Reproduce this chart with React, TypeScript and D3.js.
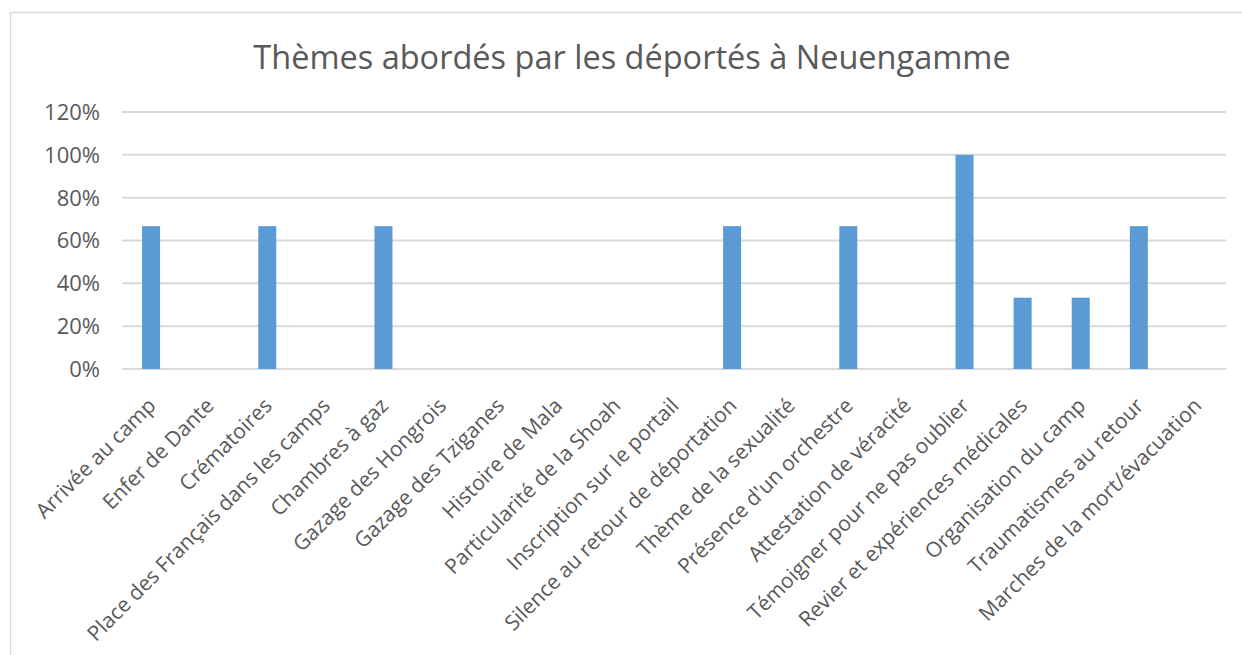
import * as d3 from "d3";

const categories = [
  "Arrivée au camp",
  "Enfer de Dante",
  "Crématoires",
  "Place des Français dans les camps",
  "Chambres à gaz",
  "Gazage des Hongrois",
  "Gazage des Tziganes",
  "Histoire de Mala",
  "Particularité de la Shoah",
  "Inscription sur le portail",
  "Silence au retour de déportation",
  "Thème de la sexualité",
  "Présence d'un orchestre",
  "Attestation de véracité",
  "Témoigner pour ne pas oublier",
  "Revier et expériences médicales",
  "Organisation du camp",
  "Traumatismes au retour",
  "Marches de la mort/évacuation",
];

const values = [
  0.667, 0, 0.667, 0, 0.667, 0, 0, 0, 0, 0, 0.667, 0, 0.667, 0, 1, 0.333, 0.333,
  0.667, 0,
];

const yTicks = [0, 0.2, 0.4, 0.6, 0.8, 1, 1.2];

const TITLE = "Thèmes abordés par les déportés à Neuengamme";

const W = 1242;
const H = 655;
const FONT = "'Open Sans', 'Noto Sans', sans-serif";
const TEXT = "#595959";
const GRID = "#d9d9d9";
const BAR = "#5b9bd5";

export default function App() {
  const x = d3
    .scaleBand<string>()
    .domain(categories)
    .range([122, 1226])
    .paddingInner(0.69)
    .paddingOuter(0.345);

  const y = d3.scaleLinear().domain([0, 1.2]).range([369, 112]);
  const fmt = d3.format(".0%");

  return (
    <svg
      width={W}
      height={H}
      style={{ position: "fixed", top: 0, left: 0, background: "#fff" }}
      fontFamily={FONT}
    >
      <rect x={10.5} y={12.5} width={1300} height={700} fill="#fff" stroke={GRID} strokeWidth={1.5} />

      <text x={632} y={69} textAnchor="middle" fontSize={32.5} fill={TEXT}>
        {TITLE}
      </text>

      {yTicks.map((t) => (
        <g key={t}>
          <line x1={122} x2={1226} y1={y(t)} y2={y(t)} stroke={GRID} strokeWidth={2} />
          <text x={100} y={y(t)} dy="0.36em" textAnchor="end" fontSize={22} fill={TEXT}>
            {fmt(t)}
          </text>
        </g>
      ))}

      {categories.map((c, i) => (
        <rect
          key={c}
          x={x(c)}
          y={y(values[i])}
          width={x.bandwidth()}
          height={y(0) - y(values[i])}
          fill={BAR}
        />
      ))}

      {categories.map((c) => {
        const cx = (x(c) ?? 0) + x.bandwidth() / 2;
        return (
          <text
            key={c}
            transform={`translate(${cx + 6},${407}) rotate(-45)`}
            textAnchor="end"
            fontSize={21}
            fill={TEXT}
          >
            {c}
          </text>
        );
      })}
    </svg>
  );
}
